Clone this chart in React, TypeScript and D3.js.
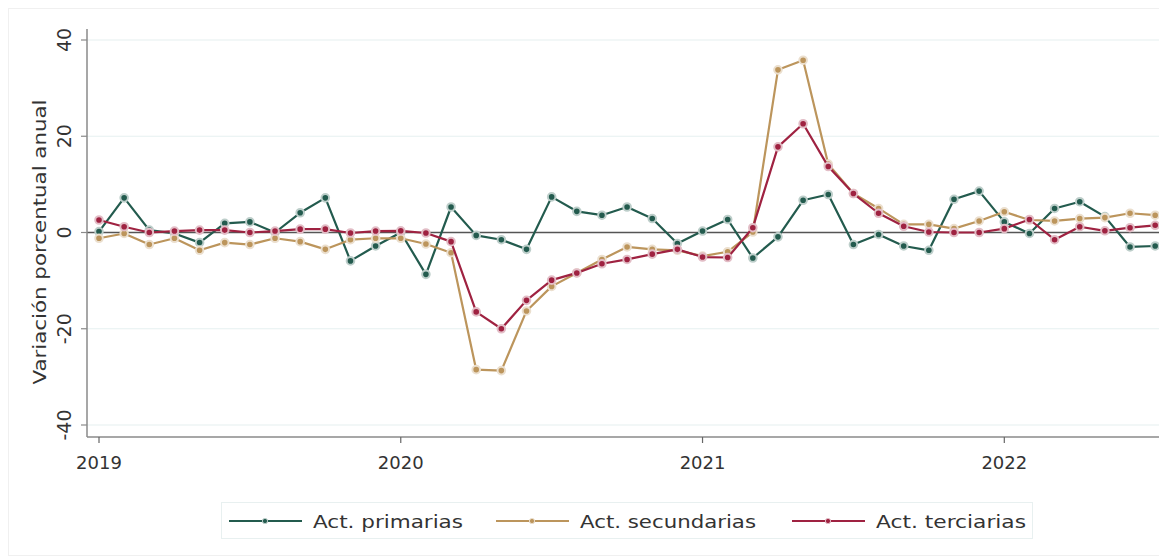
import * as d3 from 'd3';
import { useEffect, useRef } from 'react';

// monthly, Jan 2019 .. Jul 2022
const primarias = [
  0.2, 7.2, 0.5, -0.2, -2.1, 1.9, 2.2, 0.0, 4.1, 7.2, -5.9, -2.8,
  0.0, -8.7, 5.3, -0.6, -1.5, -3.5, 7.4, 4.4, 3.6, 5.3, 2.9, -2.3,
  0.3, 2.7, -5.3, -0.9, 6.7, 7.9, -2.5, -0.4, -2.8, -3.7, 6.9, 8.6,
  2.2, -0.2, 5.0, 6.4, 3.3, -3.0, -2.8,
];
const secundarias = [
  -1.2, -0.2, -2.5, -1.2, -3.7, -2.1, -2.5, -1.2, -1.9, -3.5, -1.5, -1.2,
  -1.2, -2.4, -4.2, -28.5, -28.7, -16.3, -11.2, -8.4, -5.6, -3.0, -3.5, -3.7,
  -4.9, -4.0, 0.1, 33.8, 35.8, 14.2, 8.1, 5.0, 1.7, 1.7, 0.8, 2.4,
  4.3, 2.6, 2.4, 2.9, 3.1, 4.0, 3.6,
];
const terciarias = [
  2.6, 1.2, 0.0, 0.3, 0.5, 0.5, 0.0, 0.3, 0.7, 0.7, -0.1, 0.3,
  0.35, -0.1, -1.9, -16.5, -20.0, -14.1, -9.9, -8.4, -6.5, -5.6, -4.5, -3.5,
  -5.1, -5.2, 1.0, 17.8, 22.6, 13.7, 8.1, 4.0, 1.3, 0.1, 0.0, 0.0,
  0.8, 2.7, -1.5, 1.2, 0.35, 1.0, 1.5,
];
const years = ['2019', '2020', '2021', '2022'];
const yTicks = [-40, -20, 0, 20, 40];
const seriesNames = ['Act. primarias', 'Act. secundarias', 'Act. terciarias'];
const seriesColors = ['#235B4E', '#BC955C', '#9F2241'];

export default function App() {
  const svgRef = useRef<SVGSVGElement | null>(null);

  useEffect(() => {
    if (!svgRef.current) return;
    const svg = d3.select(svgRef.current);
    svg.selectAll('*').remove();

    const width = 1159;
    const left = 87;
    const bottom = 437;
    const font = 'DejaVu Sans';

    const x = d3.scaleLinear().domain([0, 36]).range([99, 1004.3]);
    const y = d3.scaleLinear().domain([-40, 40]).range([425, 40]);

    // outer frame
    svg
      .append('rect')
      .attr('x', 8.5)
      .attr('y', 8.5)
      .attr('width', width)
      .attr('height', 547)
      .attr('fill', 'none')
      .attr('stroke', '#f0f0f0');

    // grid
    svg
      .append('g')
      .selectAll('line')
      .data(yTicks.filter((d) => d !== 0))
      .enter()
      .append('line')
      .attr('x1', left)
      .attr('x2', width)
      .attr('y1', (d) => y(d))
      .attr('y2', (d) => y(d))
      .attr('stroke', '#e6f0f0')
      .attr('stroke-width', 1.2);

    // zero line
    svg
      .append('line')
      .attr('x1', left)
      .attr('x2', width)
      .attr('y1', y(0))
      .attr('y2', y(0))
      .attr('stroke', '#555')
      .attr('stroke-width', 1.6);

    // y axis
    const yAxis = svg.append('g').attr('transform', `translate(${left},0)`);
    yAxis
      .append('line')
      .attr('y1', 29)
      .attr('y2', bottom)
      .attr('stroke', '#8a8a8a')
      .attr('stroke-width', 1.5);
    yAxis
      .selectAll('line.tick')
      .data(yTicks)
      .enter()
      .append('line')
      .attr('class', 'tick')
      .attr('x1', -6)
      .attr('x2', 0)
      .attr('y1', (d) => y(d))
      .attr('y2', (d) => y(d))
      .attr('stroke', '#8a8a8a')
      .attr('stroke-width', 1.2);
    yAxis
      .selectAll('text')
      .data(yTicks)
      .enter()
      .append('text')
      .attr('transform', (d) => `translate(-16,${y(d)}) rotate(-90)`)
      .attr('text-anchor', 'middle')
      .attr('font-family', font)
      .attr('font-size', 19)
      .attr('fill', '#333')
      .text((d) => String(d));

    svg
      .append('text')
      .attr('transform', `translate(46,242) rotate(-90)`)
      .attr('text-anchor', 'middle')
      .attr('font-family', font)
      .attr('font-size', 18)
      .attr('textLength', 285)
      .attr('lengthAdjust', 'spacingAndGlyphs')
      .attr('fill', '#333')
      .text('Variación porcentual anual');

    // x axis
    const xAxis = svg.append('g').attr('transform', `translate(0,${bottom})`);
    xAxis
      .append('line')
      .attr('x1', left)
      .attr('x2', width)
      .attr('stroke', '#8a8a8a')
      .attr('stroke-width', 1.5);
    xAxis
      .selectAll('line.tick')
      .data(years)
      .enter()
      .append('line')
      .attr('class', 'tick')
      .attr('x1', (_, i) => x(i * 12))
      .attr('x2', (_, i) => x(i * 12))
      .attr('y1', 0)
      .attr('y2', 6)
      .attr('stroke', '#666')
      .attr('stroke-width', 1.2);
    xAxis
      .selectAll('text')
      .data(years)
      .enter()
      .append('text')
      .attr('x', (_, i) => x(i * 12))
      .attr('y', 32)
      .attr('text-anchor', 'middle')
      .attr('font-family', font)
      .attr('font-size', 18)
      .attr('fill', '#333')
      .text((d) => d);

    // series
    const allSeries = [primarias, secundarias, terciarias];
    const line = d3
      .line<number>()
      .x((_, i) => x(i))
      .y((d) => y(d));

    allSeries.forEach((values, k) => {
      const color = seriesColors[k];
      const halo = d3.interpolateRgb(color, '#ffffff')(0.7);
      const g = svg.append('g');
      g.append('path')
        .datum(values)
        .attr('d', line)
        .attr('fill', 'none')
        .attr('stroke', color)
        .attr('stroke-width', 2.2)
        .attr('stroke-linejoin', 'round');
      g.selectAll('circle')
        .data(values)
        .enter()
        .append('circle')
        .attr('cx', (_, i) => x(i))
        .attr('cy', (d) => y(d))
        .attr('r', 3.8)
        .attr('fill', color)
        .attr('stroke', halo)
        .attr('stroke-width', 2);
    });

    // legend
    const legend = svg.append('g');
    legend
      .append('rect')
      .attr('x', 221.5)
      .attr('y', 502.5)
      .attr('width', 811)
      .attr('height', 36)
      .attr('fill', '#fff')
      .attr('stroke', '#e8f0f0');
    const legendX = [229, 496, 792];
    const legendW = [150, 176, 150];
    seriesNames.forEach((name, k) => {
      const lx = legendX[k];
      const color = seriesColors[k];
      legend
        .append('line')
        .attr('x1', lx)
        .attr('x2', lx + 73)
        .attr('y1', 521)
        .attr('y2', 521)
        .attr('stroke', color)
        .attr('stroke-width', 2.2);
      legend
        .append('circle')
        .attr('cx', lx + 36)
        .attr('cy', 521)
        .attr('r', 2.6)
        .attr('fill', color)
        .attr('stroke', d3.interpolateRgb(color, '#ffffff')(0.7))
        .attr('stroke-width', 1);
      legend
        .append('text')
        .attr('x', lx + 84)
        .attr('y', 527.5)
        .attr('font-family', font)
        .attr('font-size', 18.5)
        .attr('textLength', legendW[k])
        .attr('lengthAdjust', 'spacingAndGlyphs')
        .attr('fill', '#333')
        .text(name);
    });
  }, []);

  return (
    <svg
      ref={svgRef}
      width={1159}
      height={559}
      style={{ position: 'absolute', left: 0, top: 0, background: '#fff' }}
    ></svg>
  );
}
